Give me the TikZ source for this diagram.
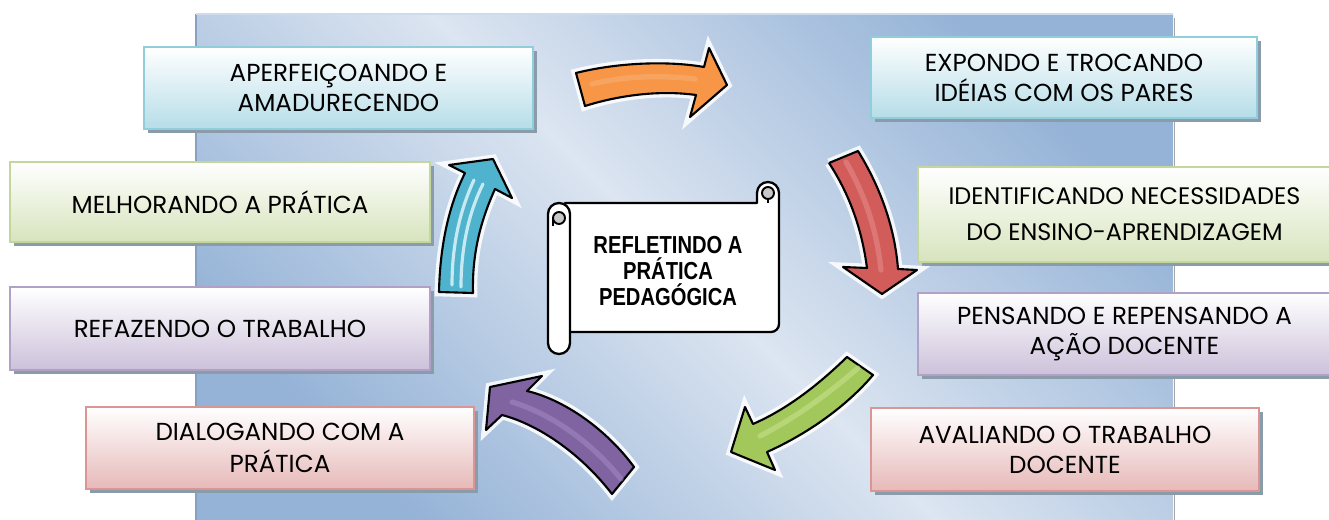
\documentclass[tikz,border=0pt]{standalone}
\usepackage{fontspec}
\setmainfont{Poppins}
\newfontfamily\ctrfont{Liberation Sans}[FakeStretch=0.82]
\usetikzlibrary{shadows}
\definecolor{panelD}{HTML}{95B3D7}
\definecolor{panelL}{HTML}{DCE5F1}
\definecolor{shadowc}{HTML}{8A9BAA}
\definecolor{cyanB}{HTML}{92CDDC}
\definecolor{cyanF}{HTML}{B6DDE8}
\definecolor{greenB}{HTML}{C3D69B}
\definecolor{greenF}{HTML}{D7E4BD}
\definecolor{purpB}{HTML}{B2A1C7}
\definecolor{purpF}{HTML}{CCC1DA}
\definecolor{pinkB}{HTML}{D99694}
\definecolor{pinkF}{HTML}{E6B9B8}
\definecolor{orangeA}{HTML}{F79646}
\definecolor{orangeH}{HTML}{FBB684}
\definecolor{redA}{HTML}{D25C59}
\definecolor{redH}{HTML}{E99A98}
\definecolor{greenA}{HTML}{A2C75A}
\definecolor{greenH}{HTML}{D2EA9C}
\definecolor{purpA}{HTML}{8064A2}
\definecolor{purpH}{HTML}{A993C8}
\definecolor{cyanA}{HTML}{4FB3CE}
\definecolor{cyanH}{HTML}{E6F8FC}
\definecolor{rollG}{HTML}{C8C8C8}
\newcommand\boxfont{\fontsize{14}{17}\selectfont}
\tikzset{
  pbox/.style 2 args={draw=#1, line width=1.1pt, top color=white, bottom color=#2,
    drop shadow={shadow xshift=0.08cm, shadow yshift=-0.08cm, fill=shadowc, opacity=1},
    inner sep=0pt, align=center, font=\boxfont, text=black},
  arr/.style={fill=#1, draw=black, line width=1.2pt, line join=round,
    preaction={draw=white, line width=5pt, opacity=0.85}},
  hl/.style={draw=#1, line width=3pt, line cap=round, opacity=0.45},
  scrollst/.style={draw=black, line width=1.3pt, fill=white, line join=round}
}
\begin{document}
\begin{tikzpicture}[x=0.02cm,y=-0.02cm]
\useasboundingbox (0,0) rectangle (1329,520);
\fill[white] (0,0) rectangle (1329,520);
% panel
\shade[top color=panelD, bottom color=panelD, middle color=panelL, shading angle=-45] (196,14) rectangle (1173,520);
\draw[draw=panelD!90!black, line width=0.9pt] (196,520) -- (196,14);
\draw[draw=panelL!80!panelD, line width=0.9pt] (196,14) -- (1173,14);
\draw[draw=gray!70, line width=1.1pt] (1174.5,18) -- (1174.5,520);

% boxes
\node[pbox={cyanB}{cyanF}, minimum width=7.78cm, minimum height=1.64cm] (a) at (338.5,88) {APERFEIÇOANDO E\\AMADURECENDO};
\node[pbox={cyanB}{cyanF}, minimum width=7.72cm, minimum height=1.62cm] (b) at (1064,77.5) {EXPONDO E TROCANDO\\IDÉIAS COM OS PARES};
\node[pbox={greenB}{greenF}, minimum width=8.4cm, minimum height=1.6cm] (c) at (220,202) {MELHORANDO A PRÁTICA};
\node[pbox={greenB}{greenF}, minimum width=8.26cm, minimum height=1.9cm, font=\fontsize{13.6}{20.4}\selectfont] (d) at (1124.5,214.5) {IDENTIFICANDO NECESSIDADES\\DO ENSINO-APRENDIZAGEM};
\node[pbox={purpB}{purpF}, minimum width=8.4cm, minimum height=1.66cm] (e) at (220,328.5) {REFAZENDO O TRABALHO};
\node[pbox={purpB}{purpF}, minimum width=8.26cm, minimum height=1.64cm] (f) at (1124.5,334) {PENSANDO E REPENSANDO A\\AÇÃO DOCENTE};
\node[pbox={pinkB}{pinkF}, minimum width=7.76cm, minimum height=1.64cm] (g) at (280,448) {\raisebox{-4pt}{\shortstack{DIALOGANDO COM A\\[2pt]PRÁTICA}}};
\node[pbox={pinkB}{pinkF}, minimum width=7.76cm, minimum height=1.66cm] (h) at (1065,449.5) {AVALIANDO O TRABALHO\\DOCENTE};

% scroll
\draw[scrollst] (565,203) -- (757,203) -- (757,193) arc[start angle=180,end angle=360,radius=11] -- (779,324) arc[start angle=0,end angle=90,radius=8] -- (565,332) -- cycle;
\fill[rollG] (768,193) circle[radius=6];
\draw[line width=1.1pt] (768,193) circle[radius=6];
\draw[line width=1.1pt] (768,199) -- (768,203);
\draw[scrollst] (570,214) -- (570,343) arc[start angle=0,end angle=180,radius=11] -- (548,214) arc[start angle=180,end angle=360,radius=11] -- cycle;
\fill[rollG] (559,218) circle[radius=6];
\draw[line width=1.1pt] (559,218) circle[radius=6];
\draw[line width=1.1pt] (553,218) -- (553,226);
\node[font=\ctrfont\bfseries\fontsize{14}{14.7}\selectfont, align=center] (ct) at (668,271) {REFLETINDO A\\PRÁTICA\\PEDAGÓGICA};

% orange arrow
\draw[arr=orangeA] (576,73) .. controls (620,62) and (670,61) .. (704,67) -- (709,48) -- (727,85) -- (690,117) -- (696,95) .. controls (660,90) and (620,95) .. (585,106) -- cycle;
\draw[hl=orangeH] (592,84) .. controls (625,76) and (660,75) .. (695,79);
% red arrow
\draw[arr=redA] (829,163) -- (858,151) .. controls (882,190) and (895,230) .. (898,269) -- (917,270) -- (882,294) -- (843,267) -- (867,268) .. controls (862,230) and (850,195) .. (829,163);
\draw[hl=redH] (846,162) .. controls (866,197) and (877,232) .. (881,270);
% green arrow
\draw[arr=greenA] (847,357) .. controls (815,388) and (785,410) .. (753,424) -- (745,407) -- (731,452) -- (775,470) -- (767,452) .. controls (805,435) and (845,408) .. (873,375) -- cycle;
\draw[hl=greenH] (858,368) .. controls (828,394) and (795,418) .. (760,436);
% purple arrow
\draw[arr=purpA] (634,467) .. controls (607,430) and (565,400) .. (527,391) -- (542,376) -- (490,387) -- (486,430) -- (502,415) .. controls (540,425) and (582,455) .. (612,494) -- cycle;
\draw[hl=purpH] (621,479) .. controls (592,443) and (552,414) .. (512,402);
% cyan arrow
\draw[arr=cyanA] (439,292) .. controls (440,245) and (449,205) .. (465,173) -- (449,165) -- (493,159) -- (512,198) -- (495,189) .. controls (480,222) and (472,255) .. (473,293) -- cycle;
\draw[hl=cyanH, line width=1.8pt, opacity=0.8] (452,285) .. controls (452,245) and (460,210) .. (474,180);
\draw[hl=cyanH, line width=1.8pt, opacity=0.8] (461,287) .. controls (461,247) and (469,212) .. (483,184);
\end{tikzpicture}
\end{document}
